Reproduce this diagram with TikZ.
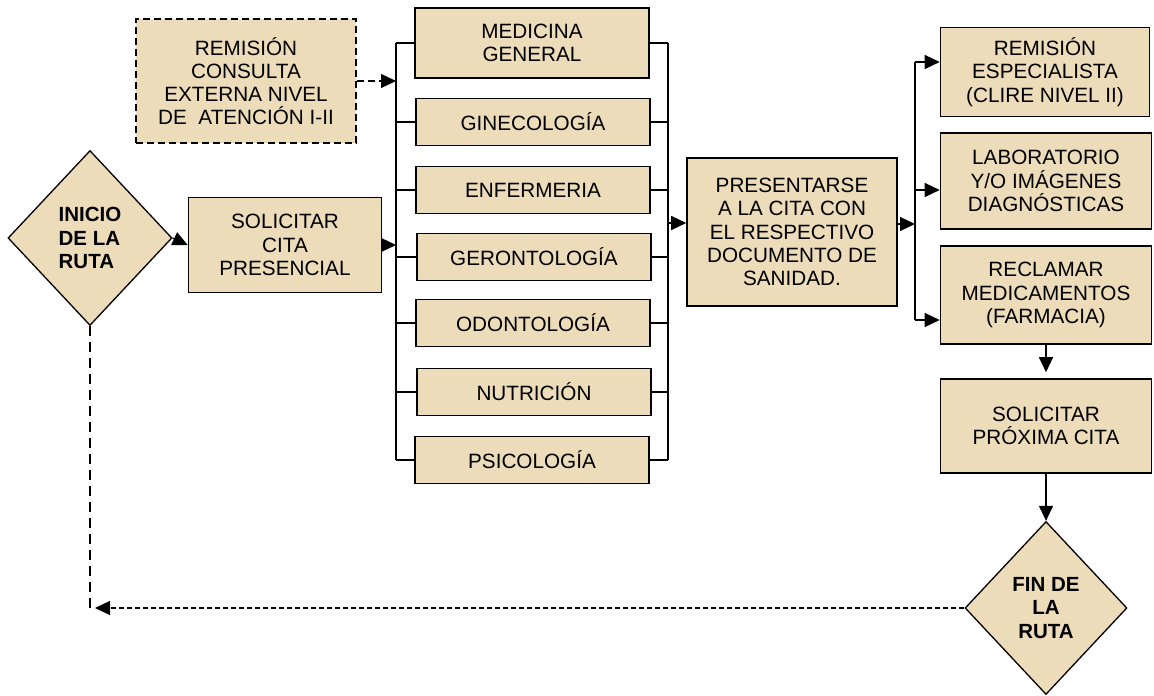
\documentclass[tikz,border=0pt]{standalone}
\usepackage{fontspec}
\setmainfont{Liberation Sans}
\usetikzlibrary{shapes.geometric,arrows.meta,positioning}
\definecolor{pergamino}{RGB}{236,220,186}

\begin{document}
\begin{tikzpicture}[x=1pt,y=-1pt]
        %styles
        \tikzstyle{caja}=[rectangle, draw, line width=1.6pt, fill=pergamino, align=center, inner sep=2pt, font=\fontsize{20.7}{23.2}\selectfont]
        \tikzstyle{cajadash}=[caja, dash pattern=on 7pt off 4pt]
        \tikzstyle{rombo}=[diamond, draw, line width=1.3pt, fill=pergamino, inner sep=0pt, font=\bfseries\fontsize{20.5}{23.3}\selectfont]
        \tikzstyle{linea}=[line width=1.3pt]
        \tikzstyle{commu}=[-{Triangle[length=15pt,width=14pt]}, line width=1.3pt]
        \tikzstyle{commudash}=[commu, dash pattern=on 7pt off 4pt]
        \tikzstyle{retorno}=[line width=1.3pt, dash pattern=on 10pt off 6pt]
        \tikzstyle{commuret}=[commu, dash pattern=on 5pt off 3pt]

        \useasboundingbox (0,0) rectangle (1154,696);

        %nodes
        \node[rombo, align=left, minimum width=164pt, minimum height=175pt] (inicio) at (90,238) {INICIO\\DE LA\\RUTA};
        \node[caja, minimum width=193pt, minimum height=95pt] (solcita) at (285,245) {SOLICITAR\\CITA\\PRESENCIAL};
        \node[cajadash, minimum width=220pt, minimum height=124pt] (remision) at (246,81) {REMISIÓN\\CONSULTA\\EXTERNA NIVEL\\DE\ \ ATENCIÓN I-II};

        \node[caja, minimum width=234pt, minimum height=70pt] (med) at (532,43) {MEDICINA\\GENERAL};
        \node[caja, minimum width=234pt, minimum height=47pt] (gine) at (533,122) {GINECOLOGÍA};
        \node[caja, minimum width=234pt, minimum height=47pt] (enf) at (533,190) {ENFERMERIA};
        \node[caja, minimum width=234pt, minimum height=47pt] (gero) at (534,257) {GERONTOLOGÍA};
        \node[caja, minimum width=234pt, minimum height=47pt] (odon) at (533,323) {ODONTOLOGÍA};
        \node[caja, minimum width=234pt, minimum height=47pt] (nutr) at (534,392) {NUTRICIÓN};
        \node[caja, minimum width=234pt, minimum height=47pt] (psic) at (532,460) {PSICOLOGÍA};

        \node[caja, minimum width=210pt, minimum height=148pt] (presenta) at (792,232) {PRESENTARSE\\A LA CITA CON\\EL RESPECTIVO\\DOCUMENTO DE\\SANIDAD.};

        \node[caja, minimum width=209pt, minimum height=89pt] (remesp) at (1045,72) {REMISIÓN\\ESPECIALISTA\\(CLIRE NIVEL II)};
        \node[caja, minimum width=211pt, minimum height=96pt] (lab) at (1046,181) {LABORATORIO\\Y/O IMÁGENES\\DIAGNÓSTICAS};
        \node[caja, minimum width=211pt, minimum height=98pt] (recl) at (1046,295) {RECLAMAR\\MEDICAMENTOS\\(FARMACIA)};
        \node[caja, minimum width=211pt, minimum height=94pt] (solprox) at (1046,426) {SOLICITAR\\PRÓXIMA CITA};
        \node[rombo, align=center, minimum width=162pt, minimum height=173pt] (fin) at (1046,608) {FIN DE\\LA\\RUTA};

        \coordinate (lbar) at (396,0);
        \coordinate (rbar) at (668,0);
        \coordinate (d1) at (915,62);
        \coordinate (d2) at (915,190);
        \coordinate (d3) at (915,320);
        \coordinate (pin) at ([yshift=9pt]presenta.west);
        \coordinate (pout) at ([yshift=8pt]presenta.east);
        \coordinate (ret) at (inicio.south |- fin.west);

        %arrows
        \draw[commu] (inicio.east) -- (solcita.west);
        \draw[commu] (solcita.east) -- (solcita.east -| lbar);
        \draw[commudash] (remision.east) -- (remision.east -| lbar);

        \draw[linea] (med.west -| lbar) -- (psic.west -| lbar);
        \draw[linea] (med.east -| rbar) -- (psic.east -| rbar);
        \foreach \n in {med,gine,enf,gero,odon,nutr,psic}
            \draw[linea] (\n.west) -- (\n.west -| lbar) (\n.east) -- (\n.east -| rbar);

        \draw[commu] (pin -| rbar) -- (pin);
        \draw[commu] (pout) -- (pout -| d1);

        \draw[linea] (d1) -- (d3);
        \draw[commu] (d1) -- (d1 -| remesp.west);
        \draw[commu] (d2) -- (d2 -| lab.west);
        \draw[commu] (d3) -- (d3 -| recl.west);

        \draw[commu, shorten >=6pt] (recl.south) -- (solprox.north);
        \draw[commu] (solprox.south) -- (fin.north);

        \draw[retorno] (inicio.south) -- (ret);
        \draw[commuret, shorten >=5pt] (fin.west) -- (ret);

\end{tikzpicture}
\end{document}
